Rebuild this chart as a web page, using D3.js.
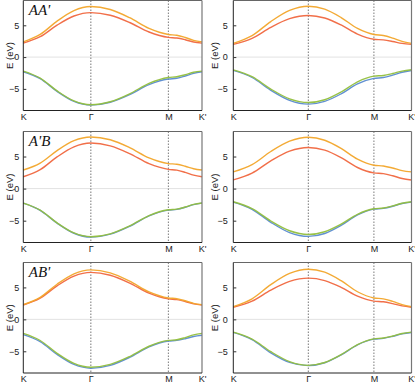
<!DOCTYPE html>
<html>
<head>
<meta charset="utf-8">
<script src="https://cdn.jsdelivr.net/npm/d3@7"></script>
<style>
  html, body { margin: 0; padding: 0; background: #fff; }
  svg { display: block; }
</style>
</head>
<body>
<svg id="chart" width="415" height="384"></svg>
<script>
// ---------- data ----------
const kLabels = ["K", "Γ", "M", "K'"];
const kTicksLeft = [0, 0.378, 0.812, 1];
const kTicksRight = [0, 0.421, 0.789, 1];
// sample points along the path: [segment index, fraction within segment]
const kSamples = [[0,0],[0,0.25],[0,0.5],[0,0.75],[1,0],[1,0.25],[1,0.5],[1,0.75],[2,0],[2,0.25],[2,0.5],[2,0.75],[3,0]];
const yTicks = [-5, 0, 5];
const panelLabels = ["AA'", "", "A'B", "", "AB'", ""];

// AA' left
const p1Orange = [2.40, 3.56, 5.66, 7.32, 7.95, 7.48, 6.19, 4.50, 3.55, 3.43, 3.08, 2.64, 2.40];
const p1Red    = [2.20, 3.20, 5.02, 6.46, 7.00, 6.58, 5.44, 3.95, 3.10, 3.00, 2.73, 2.38, 2.20];
const p1Green  = [-2.20, -3.31, -5.32, -6.90, -7.50, -7.03, -5.78, -4.13, -3.20, -3.09, -2.78, -2.39, -2.20];
const p1Blue   = [-2.30, -3.40, -5.39, -6.96, -7.55, -7.11, -5.91, -4.33, -3.45, -3.33, -2.98, -2.55, -2.30];
// AA' right
const p2Orange = [2.15, 3.37, 5.59, 7.34, 8.00, 7.54, 6.22, 4.51, 3.55, 3.40, 2.99, 2.47, 2.15];
const p2Red    = [2.00, 2.95, 4.68, 6.04, 6.55, 6.15, 5.05, 3.61, 2.80, 2.71, 2.46, 2.15, 2.00];
const p2Green  = [-2.00, -3.08, -5.03, -6.57, -7.15, -6.71, -5.49, -3.89, -3.00, -2.89, -2.58, -2.20, -2.00];
const p2Blue   = [-2.10, -3.21, -5.22, -6.80, -7.40, -6.97, -5.78, -4.22, -3.35, -3.22, -2.84, -2.38, -2.10];
// A'B left
const p3Orange = [2.90, 3.98, 5.93, 7.47, 8.05, 7.61, 6.39, 4.79, 3.90, 3.79, 3.48, 3.10, 2.90];
const p3Red    = [1.85, 2.95, 4.94, 6.51, 7.10, 6.67, 5.46, 3.88, 3.00, 2.88, 2.53, 2.10, 1.85];
const p3Green  = [-2.25, -3.35, -5.34, -6.91, -7.50, -7.05, -5.82, -4.20, -3.30, -3.19, -2.87, -2.46, -2.25];
const p3Blue   = [-2.27, -3.38, -5.38, -6.96, -7.56, -7.10, -5.87, -4.26, -3.36, -3.24, -2.91, -2.49, -2.27];
// A'B right
const p4Orange = [2.60, 3.73, 5.78, 7.39, 8.00, 7.54, 6.26, 4.59, 3.65, 3.53, 3.21, 2.81, 2.60];
const p4Red    = [1.35, 2.41, 4.32, 5.83, 6.40, 5.99, 4.82, 3.29, 2.45, 2.33, 2.00, 1.58, 1.35];
const p4Green  = [-2.05, -3.12, -5.05, -6.57, -7.15, -6.72, -5.54, -4.00, -3.15, -3.03, -2.70, -2.28, -2.05];
const p4Blue   = [-2.10, -3.22, -5.25, -6.85, -7.45, -7.00, -5.74, -4.11, -3.20, -3.08, -2.75, -2.33, -2.10];
// AB' left
const p5Orange = [2.30, 3.44, 5.50, 7.13, 7.75, 7.28, 5.98, 4.30, 3.35, 3.23, 2.91, 2.51, 2.30];
const p5Red    = [2.25, 3.32, 5.25, 6.77, 7.35, 6.90, 5.68, 4.09, 3.20, 3.09, 2.80, 2.43, 2.25];
const p5Green  = [-2.20, -3.31, -5.32, -6.90, -7.50, -7.05, -5.82, -4.21, -3.30, -3.19, -2.85, -2.43, -2.20];
const p5Blue   = [-2.40, -3.50, -5.49, -7.06, -7.65, -7.20, -5.95, -4.31, -3.40, -3.30, -3.03, -2.69, -2.50];
// AB' right
const p6Orange = [2.00, 3.22, 5.44, 7.19, 7.85, 7.38, 6.05, 4.32, 3.35, 3.21, 2.81, 2.31, 2.00];
const p6Red    = [1.90, 2.85, 4.58, 5.94, 6.45, 6.07, 5.01, 3.62, 2.85, 2.75, 2.46, 2.10, 1.90];
const p6Green  = [-2.00, -3.09, -5.06, -6.61, -7.20, -6.75, -5.53, -3.94, -3.05, -2.93, -2.61, -2.22, -2.00];
const p6Blue   = [-2.05, -3.18, -5.25, -6.75, -7.25, -6.80, -5.58, -3.99, -3.10, -2.98, -2.66, -2.27, -2.05];

const panelBands = [
  [p1Blue, p1Green, p1Red, p1Orange],
  [p2Blue, p2Green, p2Red, p2Orange],
  [p3Blue, p3Green, p3Red, p3Orange],
  [p4Blue, p4Green, p4Red, p4Orange],
  [p5Blue, p5Green, p5Red, p5Orange],
  [p6Blue, p6Green, p6Red, p6Orange]
];
const bandColors = ["#5a8bd0", "#92bf3e", "#f0673f", "#f2a52a"];

// ---------- layout ----------
const colX = [[23.3, 202], [233.3, 411.5]];
const rowY = [[0.5, 110.5], [131.5, 242.5], [262.5, 373]];
const colTickPad = [4, 5.5];
const colTitleOff = [13.8, 18.8];
const yDomain = [-8.4, 8.9];

const svg = d3.select("#chart");
const sans = "'Liberation Sans', Arial, sans-serif";

for (let p = 0; p < 6; p++) {
  const c = p % 2, r = Math.floor(p / 2);
  const [x0, x1] = colX[c];
  const [yt, yb] = rowY[r];
  const ticks = c === 0 ? kTicksLeft : kTicksRight;
  const x = d3.scaleLinear().domain([0, 1]).range([x0, x1]);
  const y = d3.scaleLinear().domain(yDomain).range([yb, yt]);
  const g = svg.append("g");

  // zero line
  g.append("line").attr("x1", x0).attr("x2", x1).attr("y1", y(0)).attr("y2", y(0))
    .attr("stroke", "#e2e2e2").attr("stroke-width", 1);

  // high-symmetry lines
  [ticks[1], ticks[2]].forEach((t, i) => {
    g.append("line").attr("x1", x(t)).attr("x2", x(t)).attr("y1", yt).attr("y2", yb)
      .attr("stroke", i === 0 ? "#555" : "#888").attr("stroke-width", i === 0 ? 0.8 : 1.1)
      .attr("stroke-dasharray", "1.5,1.5");
  });

  // bands
  const kx = kSamples.map(([s, f]) => s === 3 ? ticks[3] : ticks[s] + f * (ticks[s + 1] - ticks[s]));
  const line = d3.line().x((d, i) => x(kx[i])).y(d => y(d)).curve(d3.curveMonotoneX);
  panelBands[p].forEach((band, bi) => {
    g.append("path").datum(band).attr("d", line).attr("fill", "none")
      .attr("stroke", bandColors[bi]).attr("stroke-width", 1.4).attr("opacity", 0.95);
  });

  // frame
  g.append("line").attr("x1", x0).attr("x2", x1).attr("y1", yt).attr("y2", yt).attr("stroke", "#666").attr("stroke-width", 1.2);
  g.append("line").attr("x1", x1).attr("x2", x1).attr("y1", yt).attr("y2", yb).attr("stroke", "#777").attr("stroke-width", 1.2);
  g.append("line").attr("x1", x0).attr("x2", x1).attr("y1", yb).attr("y2", yb).attr("stroke", "#222").attr("stroke-width", 1);
  g.append("line").attr("x1", x0).attr("x2", x0).attr("y1", yt).attr("y2", yb).attr("stroke", "#222").attr("stroke-width", 1);

  // y axis
  const ya = g.append("g").attr("transform", `translate(${x0},0)`)
    .call(d3.axisLeft(y).tickValues(yTicks).tickSize(-3).tickPadding(colTickPad[c]).tickFormat(d => d < 0 ? "−" + Math.abs(d) : d));
  ya.select(".domain").remove();
  ya.selectAll(".tick line").attr("stroke", "#333");
  ya.selectAll("text").attr("font-family", sans).attr("font-size", 9).attr("fill", "#222");

  // x axis
  const xa = g.append("g").attr("transform", `translate(0,${yb})`)
    .call(d3.axisBottom(x).tickValues(ticks).tickSize(0).tickPadding(3).tickFormat((d, i) => kLabels[i]));
  xa.select(".domain").remove();
  xa.selectAll("text").attr("font-family", sans).attr("font-size", 9).attr("fill", "#222");

  // y title
  g.append("text").attr("transform", `translate(${x0 - colTitleOff[c]},${(yt + yb) / 2}) rotate(-90)`)
    .attr("text-anchor", "middle").attr("dominant-baseline", "central")
    .attr("font-family", sans).attr("font-size", 9.5).attr("fill", "#222").text("E (eV)");

  // panel label
  if (panelLabels[p]) {
    g.append("text").attr("x", x0 + 5.5).attr("y", yt + 14.8)
      .attr("font-family", "'Liberation Serif', 'Times New Roman', serif").attr("font-style", "italic")
      .attr("font-size", 15).attr("fill", "#111").text(panelLabels[p]);
  }
}
</script>
</body>
</html>
